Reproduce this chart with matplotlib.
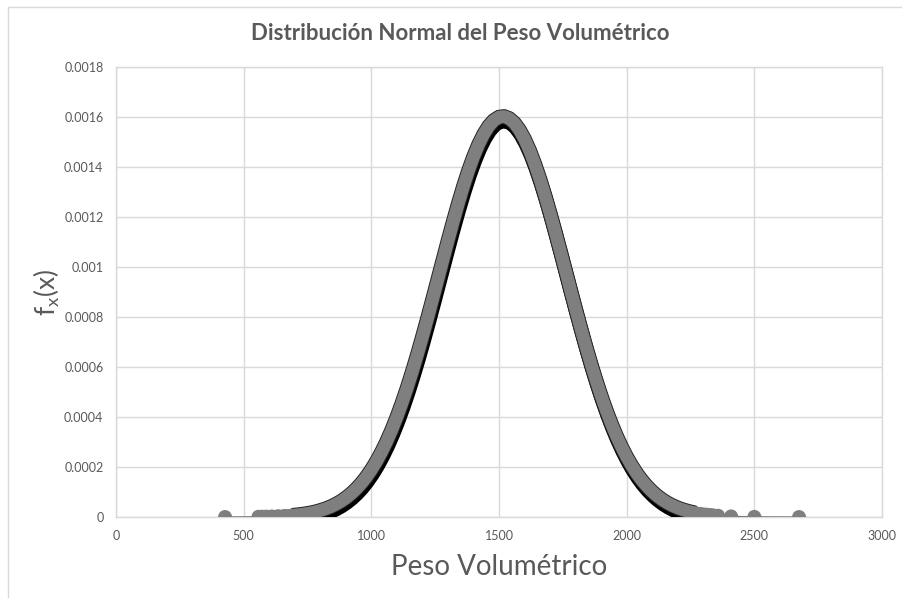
import numpy as np
import matplotlib
matplotlib.use("Agg")
import matplotlib.pyplot as plt
import matplotlib.patheffects as pe
from matplotlib.patches import Rectangle
from matplotlib.ticker import FuncFormatter

plt.rcParams['font.family'] = ['Lato', 'DejaVu Sans']
plt.rcParams['mathtext.default'] = 'regular'

# Peso volumetrico de las muestras (ordenado) y su densidad normal f_x(x)
peso = [427, 558, 572, 588, 610, 635, 662, 690, 712, 735, 757, 778, 800, 820, 840, 860,
        880, 900, 920, 940, 960, 980, 1000, 1020, 1040, 1060, 1080, 1100, 1120, 1140,
        1160, 1180, 1200, 1220, 1240, 1260, 1280, 1300, 1320, 1340, 1360, 1380, 1400,
        1420, 1440, 1460, 1480, 1500, 1520, 1540, 1560, 1580, 1600, 1620, 1640, 1660,
        1680, 1700, 1720, 1740, 1760, 1780, 1800, 1820, 1840, 1860, 1880, 1900, 1920,
        1940, 1960, 1980, 2000, 2020, 2040, 2060, 2080, 2100, 2120, 2140, 2160, 2180,
        2200, 2222, 2245, 2268, 2290, 2310, 2325, 2338, 2358, 2409, 2500, 2675]
fx = [0.0000001, 0.0000010, 0.0000012, 0.0000016, 0.0000022, 0.0000031, 0.0000045,
      0.0000066, 0.0000089, 0.0000119, 0.0000156, 0.0000200, 0.0000260, 0.0000326,
      0.0000406, 0.0000504, 0.0000620, 0.0000759, 0.0000922, 0.0001114, 0.0001336,
      0.0001593, 0.0001887, 0.0002221, 0.0002597, 0.0003017, 0.0003483, 0.0003995,
      0.0004553, 0.0005155, 0.0005799, 0.0006481, 0.0007198, 0.0007942, 0.0008707,
      0.0009484, 0.0010263, 0.0011036, 0.0011791, 0.0012516, 0.0013200, 0.0013832,
      0.0014401, 0.0014897, 0.0015311, 0.0015636, 0.0015864, 0.0015993, 0.0016019,
      0.0015941, 0.0015762, 0.0015485, 0.0015115, 0.0014659, 0.0014125, 0.0013523,
      0.0012864, 0.0012157, 0.0011416, 0.0010651, 0.0009874, 0.0009094, 0.0008322,
      0.0007567, 0.0006836, 0.0006135, 0.0005472, 0.0004848, 0.0004268, 0.0003733,
      0.0003245, 0.0002802, 0.0002404, 0.0002049, 0.0001735, 0.0001460, 0.0001221,
      0.0001014, 0.0000837, 0.0000686, 0.0000559, 0.0000453, 0.0000364, 0.0000284,
      0.0000218, 0.0000166, 0.0000126, 0.0000098, 0.0000081, 0.0000068, 0.0000052,
      0.0000025, 0.0000006, 0.0000000]

x_ticks = [0, 500, 1000, 1500, 2000, 2500, 3000]
y_ticks = [0, 0.0002, 0.0004, 0.0006, 0.0008, 0.001, 0.0012, 0.0014, 0.0016, 0.0018]

gris = '#7f7f7f'
texto = '#595959'
rejilla = '#d9d9d9'

fig = plt.figure(figsize=(9.02, 5.98), dpi=100)
ax = fig.add_axes([116/902, 81/598, 766/902, 450/598])

x = np.array(peso)
y = np.array(fx)

# linea fina que une todos los puntos
ax.plot(x, y, color=gris, lw=1.0, zorder=3)
# marcadores
ax.plot(x, y, 'o', ms=10, mfc=gris, mec=gris, mew=0, zorder=4,
        path_effects=[pe.SimplePatchShadow(offset=(0.5, -1.2), shadow_rgbFace='k', alpha=0.25),
                      pe.Normal()])

# tramo denso: sombra negra y borde oscuro bajo la banda
m = (x > 680) & (x < 2285)
ax.plot(x[m], y[m], color='k', lw=10.4, solid_capstyle='butt', solid_joinstyle='round',
        zorder=5,
        path_effects=[pe.SimpleLineShadow(offset=(0.8, -3.2), shadow_color='k', alpha=1.0),
                      pe.Stroke(linewidth=10.6, foreground='#262626')])
# banda gris de los puntos solapados
b = (x > 550) & (x < 2370)
ax.plot(x[b], y[b], color=gris, lw=9.2, solid_capstyle='round', solid_joinstyle='round',
        zorder=6)

ax.set_xlim(0, 3000)
ax.set_ylim(0, 0.0018)
ax.set_xticks(x_ticks)
ax.set_yticks(y_ticks)
ax.yaxis.set_major_formatter(FuncFormatter(lambda v, p: '%g' % round(v, 6)))
ax.grid(True, color=rejilla, lw=1.0, zorder=0)
ax.set_axisbelow(True)
for s in ax.spines.values():
    s.set_color(rejilla)
    s.set_linewidth(1.0)
ax.tick_params(length=0, labelsize=9, labelcolor=texto, pad=9)

fig.text(460/902, 1 - 34/598, 'Distribución Normal del Peso Volumétrico',
         ha='center', va='center', fontsize=16, fontweight='bold', color=texto)
fig.text(499/902, 1 - 567/598, 'Peso Volumétrico', ha='center', va='center',
         fontsize=20, color=texto)
fig.text(47/902, 1 - 292/598, r'$\mathregular{f_x(x)}$', ha='center', va='center',
         rotation=90, fontsize=19, color=texto)

# borde del area del grafico
fig.add_artist(Rectangle((8/902, -0.05), 1.2, 1.05 - 7/598, transform=fig.transFigure,
                         fill=False, edgecolor=rejilla, lw=1.0))

fig.savefig('out.png', dpi=100)
